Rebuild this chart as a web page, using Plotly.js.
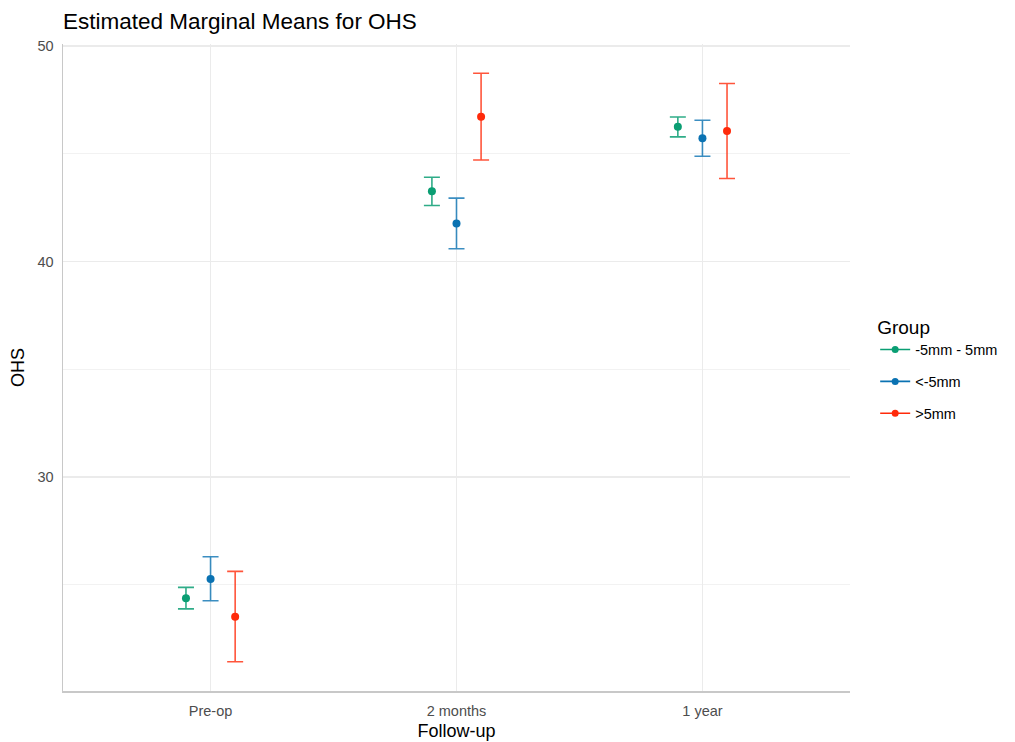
<!DOCTYPE html>
<html>
<head>
<meta charset="utf-8">
<script src="https://cdn.plot.ly/plotly-3.0.1.min.js"></script>
<style>html,body{margin:0;padding:0;background:#fff;}#chart{width:1015px;height:742px;}</style>
</head>
<body>
<div id="chart"></div>
<script>
const categories = ["Pre-op", "2 months", "1 year"];
const groups = ["-5mm - 5mm", "<-5mm", ">5mm"];
const colors = ["#0A9E73", "#0A72B2", "#FF2A0A"];
const barColors = ["rgba(10,158,115,0.85)", "rgba(10,114,178,0.8)", "rgba(255,42,10,0.8)"];

const meanMid = [24.38, 43.27, 46.26];
const lowerMid = [23.89, 42.61, 45.79];
const upperMid = [24.89, 43.92, 46.71];

const meanNeg = [25.28, 41.77, 45.73];
const lowerNeg = [24.27, 40.60, 44.89];
const upperNeg = [26.31, 42.95, 46.56];

const meanPos = [23.53, 46.73, 46.06];
const lowerPos = [21.44, 44.72, 43.86];
const upperPos = [25.63, 48.74, 48.27];

const means = [meanMid, meanNeg, meanPos];
const lowers = [lowerMid, lowerNeg, lowerPos];
const uppers = [upperMid, upperNeg, upperPos];
const dodge = [-0.1, 0, 0.1];

const traces = [];
groups.forEach((g, i) => {
  traces.push({
    type: "scatter",
    mode: "markers",
    x: categories.map((c, j) => j + dodge[i]),
    y: means[i],
    marker: {color: colors[i], size: 8},
    error_y: {
      type: "data",
      symmetric: false,
      array: means[i].map((m, j) => uppers[i][j] - m),
      arrayminus: means[i].map((m, j) => m - lowers[i][j]),
      color: barColors[i],
      thickness: 1.6,
      width: 8
    },
    name: g,
    legendgroup: g,
    showlegend: false,
    hoverinfo: "x+y"
  });
  traces.push({
    type: "scatter",
    mode: "lines+markers",
    x: [null],
    y: [null],
    marker: {color: colors[i], size: 7},
    line: {color: colors[i], width: 1.6},
    name: g,
    legendgroup: g,
    showlegend: true
  });
});

const layout = {
  width: 1015,
  height: 742,
  paper_bgcolor: "#fff",
  plot_bgcolor: "#fff",
  margin: {l: 63, r: 165, t: 44, b: 51},
  font: {family: "Liberation Sans, Arial, sans-serif", color: "#000"},
  title: {
    text: "Estimated Marginal Means for OHS",
    x: 0, xref: "paper", xanchor: "left",
    y: 0.972, yref: "container", yanchor: "middle",
    font: {size: 22.5, color: "#000"}
  },
  xaxis: {
    range: [-0.6, 2.6],
    tickvals: [0, 1, 2],
    ticktext: categories,
    showgrid: true,
    gridcolor: "#EBEBEB",
    gridwidth: 1.5,
    zeroline: false,
    showline: true,
    linecolor: "#C8C8C8",
    linewidth: 1.5,
    ticks: "",
    ticklabelstandoff: 6,
    tickfont: {size: 14.5, color: "#4D4D4D"},
    title: {text: "Follow-up", font: {size: 18, color: "#000"}, standoff: 6}
  },
  yaxis: {
    range: [20.08, 50.1],
    tickvals: [30, 40, 50],
    showgrid: true,
    gridcolor: "#EBEBEB",
    gridwidth: 1.5,
    minor: {tickvals: [25, 35, 45], showgrid: true, gridcolor: "#F2F2F2", gridwidth: 1},
    zeroline: false,
    showline: true,
    linecolor: "#C8C8C8",
    linewidth: 1.5,
    ticks: "",
    ticklabelstandoff: 5,
    tickfont: {size: 14.5, color: "#4D4D4D"},
    title: {text: "OHS", font: {size: 18, color: "#000"}, standoff: 8}
  },
  legend: {
    x: 1.032, xanchor: "left",
    y: 0.497, yanchor: "middle",
    title: {text: "Group", font: {size: 19, color: "#000"}},
    font: {size: 14.5, color: "#000"},
    tracegroupgap: 10,
    bgcolor: "rgba(0,0,0,0)"
  },
  showlegend: true
};

Plotly.newPlot("chart", traces, layout, {displayModeBar: false, staticPlot: true});
</script>
</body>
</html>
